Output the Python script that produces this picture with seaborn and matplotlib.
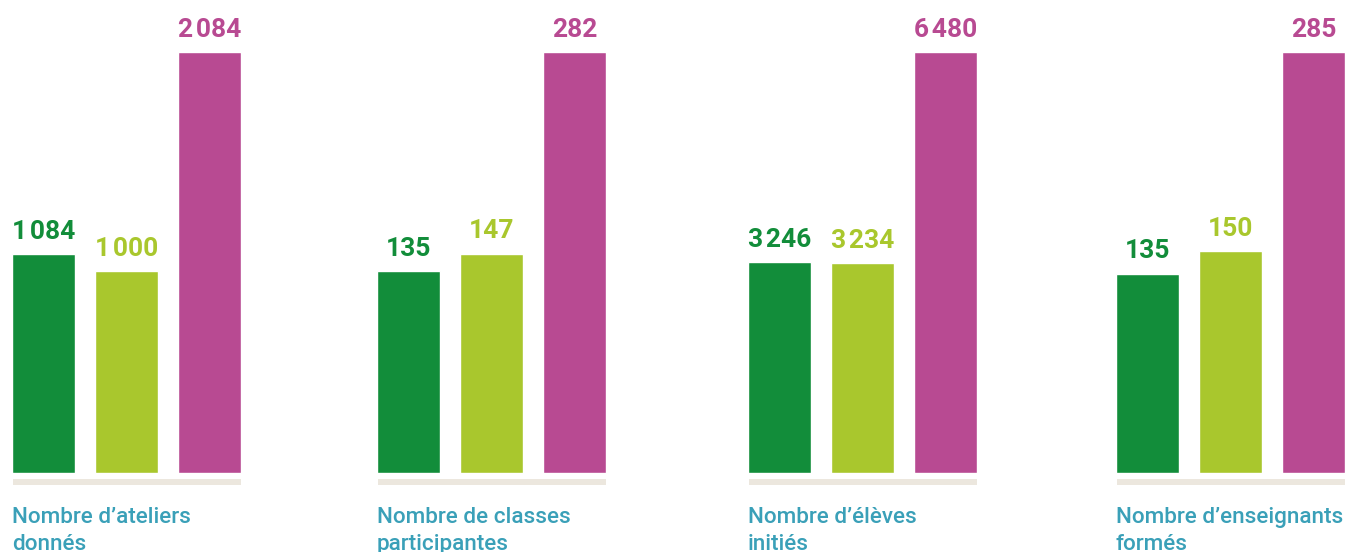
import matplotlib
matplotlib.use("Agg")
import matplotlib.pyplot as plt
import seaborn as sns
import pandas as pd
from matplotlib.patches import Rectangle

# Data (magenta bar = total of the two greens)
categories = [
    ["Nombre d’ateliers", "donnés"],
    ["Nombre de classes", "participantes"],
    ["Nombre d’élèves", "initiés"],
    ["Nombre d’enseignants", "formés"],
]
series = ["Série 1", "Série 2", "Total"]
serie_1 = [1084, 135, 3246, 135]
serie_2 = [1000, 147, 3234, 150]
total = [2084, 282, 6480, 285]

colors = ["#128d3a", "#a9c72d", "#b84a92"]
label_color = "#3aa0b8"
base_color = "#ece7de"

sns.set_theme(style="white")
plt.rcParams["font.family"] = ["Roboto", "DejaVu Sans"]

W, H = 1346, 552
fig = plt.figure(figsize=(W / 100, H / 100), dpi=100)

lefts = [12, 377, 748, 1116]
ax_w = 229
bottom_px, top_px = 473, 52
bar_w = 0.76

for i, left in enumerate(lefts):
    df = pd.DataFrame({"serie": series,
                       "valeur": [serie_1[i], serie_2[i], total[i]]})
    ax = fig.add_axes([left / W, (H - bottom_px) / H, ax_w / W,
                       (bottom_px - top_px) / H])
    sns.barplot(data=df, x="serie", y="valeur", hue="serie", palette=colors,
                width=bar_w, legend=False, ax=ax, saturation=1)
    ax.set_xlim(-bar_w / 2, 2 + bar_w / 2)
    ax.set_ylim(0, total[i])
    ax.axis("off")

    for j, v in enumerate(df["valeur"]):
        txt = f"{v:,}".replace(",", "\u200a")
        ax.annotate(txt, (j, v), xytext=(0, 11), textcoords="offset points",
                    ha="center", va="baseline", fontsize=19,
                    fontweight="bold", color=colors[j],
                    family=["Roboto", "DejaVu Sans"])

    # beige baseline under each group
    h = bottom_px - top_px
    ax.add_patch(Rectangle((0.005, -12 / h), 0.995, 6 / h,
                           transform=ax.transAxes, color=base_color,
                           clip_on=False, lw=0))

    # category label (two lines)
    fig.text(left / W, (H - 523) / H, categories[i][0], color=label_color,
             fontsize=16.2, fontweight="medium", ha="left", va="baseline")
    fig.text(left / W, (H - 550) / H, categories[i][1], color=label_color,
             fontsize=16.2, fontweight="medium", ha="left", va="baseline")

fig.savefig("out.png", dpi=100, facecolor="white")
